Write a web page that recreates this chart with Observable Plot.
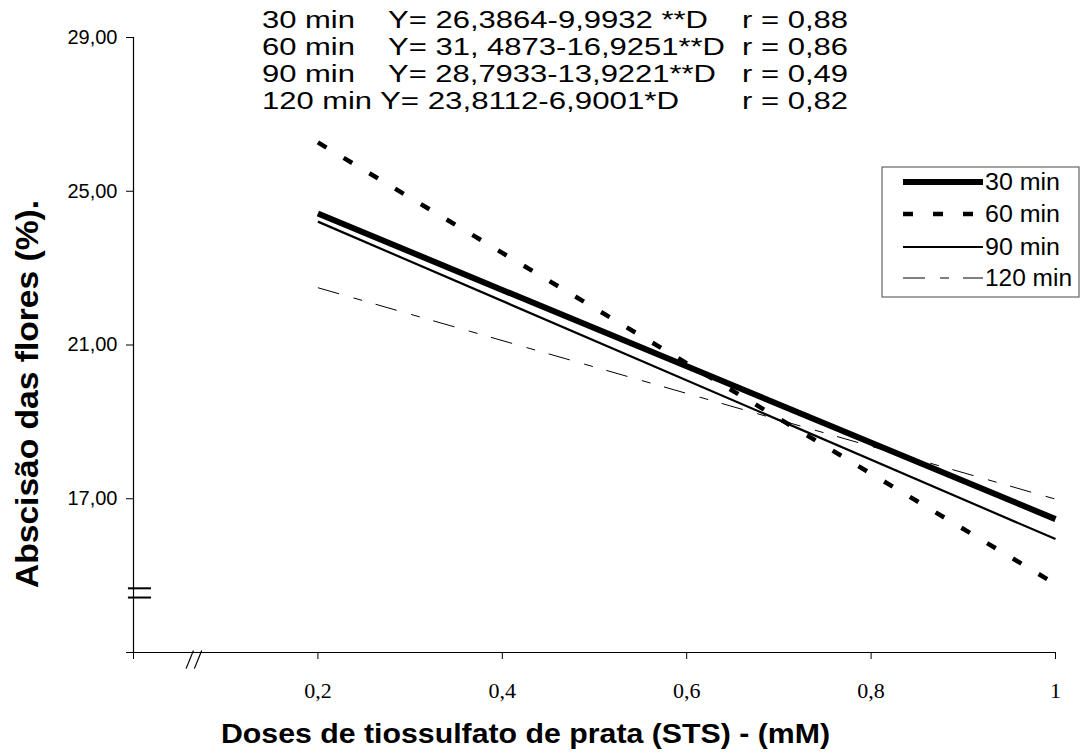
<!DOCTYPE html>
<html>
<head>
<meta charset="utf-8">
<script src="https://cdn.jsdelivr.net/npm/d3@7"></script>
<script src="https://cdn.jsdelivr.net/npm/@observablehq/plot@0.6"></script>
<style>
  html, body { margin: 0; padding: 0; background: #fff; }
  #chart { position: relative; width: 1086px; height: 754px; }
</style>
</head>
<body>
<div id="chart"></div>
<script>
// ---- Data ----
const doses = [0.2, 1];
const series = ["30 min", "60 min", "90 min", "120 min"];
const values30 = [24.42, 16.47];
const values60 = [26.27, 14.78];
const values90 = [24.21, 15.95];
const values120 = [22.49, 16.99];
const yTicks = [13, 17, 21, 25, 29];
const xTicks = [0, 0.2, 0.4, 0.6, 0.8, 1];
const eqLabels = ["30 min", "60 min", "90 min", "120 min"];
const eqFormulas = ["Y= 26,3864-9,9932 **D", "Y= 31, 4873-16,9251**D", "Y= 28,7933-13,9221**D", "Y= 23,8112-6,9001*D"];
const eqR = ["r = 0,88", "r = 0,86", "r = 0,49", "r = 0,82"];
const yBreaks = [14.43, 14.67];
const xBreaks = [0.057, 0.066];
const xTitle = "Doses de tiossulfato de prata (STS) - (mM)";
const yTitle = "Abscisão das flores (%).";

// ---- Build table ----
const allValues = [values30, values60, values90, values120];
const rows = [];
series.forEach((s, i) => doses.forEach((d, j) => rows.push({serie: s, dose: d, value: allValues[i][j]})));

const styles = {
  "30 min": {strokeWidth: 6, dash: null},
  "60 min": {strokeWidth: 4.5, dash: "10,20"},
  "90 min": {strokeWidth: 2.2, dash: null},
  "120 min": {strokeWidth: 1, dash: "22,15,9,14"}
};

const fmtY = d => d === 13 ? "" : d.toFixed(2).replace(".", ",");
const fmtX = d => d === 0 ? "" : String(d).replace(".", ",");

const lineMarks = series.map(s => Plot.line(rows.filter(r => r.serie === s), {
  x: "dose", y: "value", stroke: "black",
  strokeWidth: styles[s].strokeWidth,
  strokeDasharray: styles[s].dash,
  strokeLinecap: "butt"
}));

const svg = Plot.plot({
  width: 1086,
  height: 754,
  marginLeft: 133,
  marginRight: 31,
  marginTop: 37,
  marginBottom: 102,
  x: {domain: [0, 1]},
  y: {domain: [13, 29]},
  style: {fontFamily: "'Liberation Sans', Arial, sans-serif", fontSize: "20px", color: "black", background: "white", overflow: "visible"},
  marks: [
    Plot.axisY({ticks: yTicks, tickFormat: fmtY, tickSize: 7, tickPadding: 9, label: null, fontSize: 20}),
    Plot.axisX({ticks: xTicks, tickFormat: fmtX, tickSize: 7, tickPadding: 23, label: null, fontSize: 22, fontFamily: "'Liberation Serif', 'Times New Roman', serif"}),
    Plot.ruleX([0], {stroke: "black", strokeWidth: 1.2}),
    Plot.ruleY([13], {stroke: "black", strokeWidth: 1.2}),
    Plot.ruleY(yBreaks, {x1: -0.0055, x2: 0.0195, stroke: "black", strokeWidth: 2}),
    Plot.link(xBreaks, {x1: d => d, x2: d => d + 0.008, y1: 12.58, y2: 13.05, stroke: "black", strokeWidth: 1.2}),
    ...lineMarks
  ]
});

const root = d3.select(svg);
const SANS = "'Liberation Sans', Arial, sans-serif";

// Axis titles
root.append("text")
  .attr("x", 221).attr("y", 743)
  .attr("text-anchor", "start")
  .attr("textLength", 609).attr("lengthAdjust", "spacingAndGlyphs")
  .attr("font-family", SANS)
  .attr("font-weight", "bold").attr("font-size", 28)
  .attr("fill", "black")
  .text(xTitle);

root.append("text")
  .attr("transform", "translate(38,588) rotate(-90)")
  .attr("text-anchor", "start")
  .attr("textLength", 388).attr("lengthAdjust", "spacingAndGlyphs")
  .attr("font-family", SANS)
  .attr("font-weight", "bold").attr("font-size", 31)
  .attr("fill", "black")
  .text(yTitle);

// Equation annotations: one uniformly stretched text block, as in the reference
const labelSpan = [[262, 93], [262, 93], [262, 93], [262, 110]];
const formulaSpan = [[388, 320], [388, 337], [388, 328], [380, 299]];
const eq = root.append("g")
  .attr("font-family", SANS)
  .attr("font-size", 23).attr("fill", "black");
eqLabels.forEach((lab, i) => {
  const y = 28 + i * 27;
  eq.append("text").attr("x", labelSpan[i][0]).attr("y", y).attr("text-anchor", "start")
    .attr("textLength", labelSpan[i][1]).attr("lengthAdjust", "spacingAndGlyphs").text(lab);
  eq.append("text").attr("x", formulaSpan[i][0]).attr("y", y).attr("text-anchor", "start")
    .attr("textLength", formulaSpan[i][1]).attr("lengthAdjust", "spacingAndGlyphs").text(eqFormulas[i]);
  eq.append("text").attr("x", 742).attr("y", y).attr("text-anchor", "start")
    .attr("textLength", 106).attr("lengthAdjust", "spacingAndGlyphs").text(eqR[i]);
});

// Legend
const lg = root.append("g");
lg.append("rect").attr("x", 882).attr("y", 167).attr("width", 197).attr("height", 130)
  .attr("fill", "white").attr("stroke", "#444").attr("stroke-width", 1);
const legendY = [182, 214, 247, 278];
const legendTextLen = [75, 75, 75, 87];
series.forEach((s, i) => {
  lg.append("line").attr("x1", 903).attr("x2", 983).attr("y1", legendY[i]).attr("y2", legendY[i])
    .attr("stroke", "black").attr("stroke-width", styles[s].strokeWidth)
    .attr("stroke-dasharray", styles[s].dash);
  lg.append("text").attr("x", 985).attr("y", legendY[i]).attr("dy", "0.36em")
    .attr("text-anchor", "start")
    .attr("textLength", legendTextLen[i]).attr("lengthAdjust", "spacingAndGlyphs")
    .attr("font-family", SANS)
    .attr("font-size", 23).attr("fill", "black").text(s);
});

document.getElementById("chart").append(svg);
</script>
</body>
</html>
